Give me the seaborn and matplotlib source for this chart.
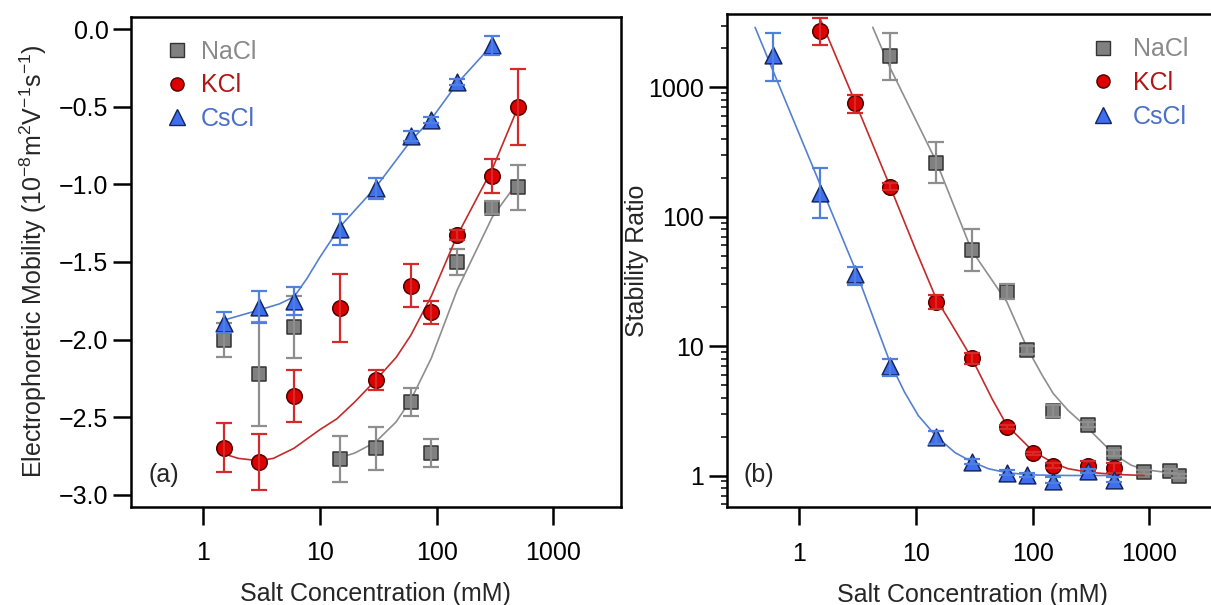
import numpy as np
import pandas as pd
import matplotlib
matplotlib.use('Agg')
import matplotlib.pyplot as plt
import seaborn as sns
from matplotlib.lines import Line2D
from matplotlib.ticker import LogLocator, NullLocator, NullFormatter, FuncFormatter

# ---------------- data: (a) electrophoretic mobility ----------------
conc_a_nacl = [1.5, 3, 6, 15, 30, 60, 90, 150, 300, 500]
mob_nacl = [-2.00, -2.22, -1.92, -2.77, -2.70, -2.40, -2.73, -1.50, -1.15, -1.02]
mob_nacl_err = [0.11, 0.335, 0.20, 0.15, 0.14, 0.09, 0.09, 0.085, 0.04, 0.145]

conc_a_kcl = [1.5, 3, 6, 15, 30, 60, 90, 150, 300, 500]
mob_kcl = [-2.695, -2.79, -2.363, -1.797, -2.258, -1.652, -1.825, -1.326, -0.945, -0.50]
mob_kcl_err = [0.16, 0.18, 0.17, 0.22, 0.065, 0.14, 0.075, 0.035, 0.11, 0.245]

conc_a_cscl = [1.5, 3, 6, 15, 30, 60, 90, 150, 300]
mob_cscl = [-1.89, -1.79, -1.75, -1.29, -1.026, -0.688, -0.587, -0.34, -0.105]
mob_cscl_err = [0.065, 0.10, 0.09, 0.10, 0.07, 0.03, 0.02, 0.02, 0.06]

# fit curves (a)
fit_a_nacl_c = [15, 20, 30, 45, 60, 90, 150, 300, 500]
fit_a_nacl_v = [-2.76, -2.73, -2.66, -2.53, -2.39, -2.12, -1.68, -1.21, -0.98]
fit_a_kcl_c = [1.5, 2, 3, 4, 6, 10, 14, 20, 30, 45, 60, 90, 150, 300, 500]
fit_a_kcl_v = [-2.735, -2.765, -2.78, -2.765, -2.70, -2.58, -2.51, -2.40, -2.262,
               -2.115, -1.973, -1.72, -1.33, -0.90, -0.50]
fit_a_cscl_c = [1.5, 3, 4.5, 6, 7.7, 10, 15, 30, 60, 90, 150, 300]
fit_a_cscl_v = [-1.875, -1.81, -1.77, -1.725, -1.61, -1.47, -1.27, -1.02, -0.72,
                -0.58, -0.35, -0.10]

# ---------------- data: (b) stability ratio ----------------
conc_b_nacl = [6, 15, 30, 60, 90, 150, 300, 500, 900, 1500, 1800]
w_nacl = [1760, 262, 55, 26.4, 9.4, 3.15, 2.45, 1.50, 1.06, 1.08, 0.99]
w_nacl_lo = [1130, 181, 38, 23, 8.7, 2.85, 2.35, 1.42, 1.03, 1.04, 0.96]
w_nacl_hi = [2640, 379, 81, 30, 10.1, 3.5, 2.6, 1.58, 1.10, 1.12, 1.02]

conc_b_kcl = [1.5, 3, 6, 15, 30, 60, 100, 150, 300, 500]
w_kcl = [2745, 760, 170, 22, 8.1, 2.36, 1.48, 1.19, 1.18, 1.14]
w_kcl_lo = [2130, 637, 160, 19.3, 7.3, 2.28, 1.43, 1.15, 1.08, 1.05]
w_kcl_hi = [3440, 866, 181, 24.9, 8.9, 2.44, 1.53, 1.24, 1.29, 1.25]

conc_b_cscl = [0.6, 1.5, 3, 6, 15, 30, 60, 90, 150, 300, 500]
w_cscl = [1762, 153, 36, 7.0, 1.99, 1.28, 1.05, 1.01, 0.91, 1.08, 0.93]
w_cscl_lo = [1110, 97, 29.7, 5.9, 1.75, 1.23, 1.01, 0.98, 0.87, 1.04, 0.89]
w_cscl_hi = [2640, 236, 41, 7.9, 2.2, 1.34, 1.10, 1.05, 0.97, 1.13, 0.98]

# fit curves (b)
fit_b_nacl_c = [4.27, 6, 15, 30, 60, 90, 120, 150, 200, 300, 500, 700, 900, 1500, 1850]
fit_b_nacl_w = [2910, 1420, 265, 55, 22, 9.6, 6.0, 4.3, 3.2, 2.3, 1.45, 1.2, 1.11, 1.05, 1.04]
fit_b_kcl_c = [1.5, 3, 6, 10, 15, 20, 30, 45, 60, 100, 150, 200, 300, 500, 900]
fit_b_kcl_w = [3450, 780, 172, 55, 23, 15, 8.1, 3.9, 2.45, 1.55, 1.25, 1.13, 1.06, 1.02, 1.0]
fit_b_cscl_c = [0.42, 0.6, 1.5, 3, 4.5, 6, 8, 10.5, 15, 21.7, 30, 41.6, 60, 100, 200, 500]
fit_b_cscl_w = [2900, 1330, 181, 40, 15, 7.5, 4.4, 2.9, 2.0, 1.5, 1.28, 1.13, 1.05, 1.01, 1.0, 1.0]

salts = ["NaCl", "KCl", "CsCl"]
x_ticks = [1, 10, 100, 1000]
x_ticklabels = ["1", "10", "100", "1000"]
a_yticks = [0.0, -0.5, -1.0, -1.5, -2.0, -2.5, -3.0]
b_yticks = [1, 10, 100, 1000]
b_yticklabels = ["1", "10", "100", "1000"]

# ---------------- styles ----------------
style = {
    "NaCl": dict(marker="s", s=105, face="#808080", edge="#333333", err="#8e8e8e",
                 line="#8e8e8e", text="#8a8a8a"),
    "KCl": dict(marker="o", s=125, face="#dc0000", edge="#500000", err="#d42a2a",
                line="#c42a2a", text="#b01818"),
    "CsCl": dict(marker="^", s=145, face="#3f6ff0", edge="#15265e", err="#4f80e0",
                 line="#5580d2", text="#4a70c8"),
}

sns.set_theme(style="ticks")
plt.rcParams["font.family"] = ["Liberation Sans", "DejaVu Sans"]
plt.rcParams["axes.unicode_minus"] = True
plt.rcParams["mathtext.fontset"] = "custom"
plt.rcParams["mathtext.rm"] = "Liberation Sans"
plt.rcParams["mathtext.it"] = "Liberation Sans:italic"
plt.rcParams["mathtext.default"] = "regular"

FS = 18
fig = plt.figure(figsize=(12.11, 6.05), dpi=100)
axA = fig.add_axes([0.1079, 0.1628, 0.405, 0.8096])
axB = fig.add_axes([0.6001, 0.1615, 0.405, 0.8149])

for ax in (axA, axB):
    ax.set_xscale("log")
axB.set_yscale("log")


def draw(ax, name, c, v, lo, hi, fc, fv, i):
    st = style[name]
    z = 2 + 3 * i
    sns.lineplot(x=fc, y=fv, ax=ax, color=st["line"], lw=1.2, sort=False,
                 estimator=None, zorder=z)
    sns.scatterplot(x=c, y=v, ax=ax, marker=st["marker"], s=st["s"], color=st["face"],
                    edgecolor=st["edge"], linewidth=1.1, zorder=z + 1)
    ax.errorbar(c, v, yerr=[lo, hi], fmt="none", ecolor=st["err"], elinewidth=1.6,
                capsize=5.5, capthick=1.6, zorder=z + 2)


# panel (a)
draw(axA, "NaCl", conc_a_nacl, mob_nacl, mob_nacl_err, mob_nacl_err,
     fit_a_nacl_c, fit_a_nacl_v, 0)
draw(axA, "KCl", conc_a_kcl, mob_kcl, mob_kcl_err, mob_kcl_err,
     fit_a_kcl_c, fit_a_kcl_v, 1)
draw(axA, "CsCl", conc_a_cscl, mob_cscl, mob_cscl_err, mob_cscl_err,
     fit_a_cscl_c, fit_a_cscl_v, 2)

# panel (b)
def asym(v, lo, hi):
    v = np.array(v); return v - np.array(lo), np.array(hi) - v

l, h = asym(w_nacl, w_nacl_lo, w_nacl_hi)
draw(axB, "NaCl", conc_b_nacl, w_nacl, l, h, fit_b_nacl_c, fit_b_nacl_w, 0)
l, h = asym(w_kcl, w_kcl_lo, w_kcl_hi)
draw(axB, "KCl", conc_b_kcl, w_kcl, l, h, fit_b_kcl_c, fit_b_kcl_w, 1)
l, h = asym(w_cscl, w_cscl_lo, w_cscl_hi)
draw(axB, "CsCl", conc_b_cscl, w_cscl, l, h, fit_b_cscl_c, fit_b_cscl_w, 2)

# axes limits / ticks
for ax in (axA, axB):
    ax.set_xlim(0.24, 3800)
    ax.set_xticks(x_ticks)
    ax.set_xticklabels(x_ticklabels)
    ax.xaxis.set_minor_locator(NullLocator())
    for sp in ax.spines.values():
        sp.set_linewidth(1.8)
        sp.set_color("black")
    ax.tick_params(axis="both", which="major", direction="out", length=13, width=1.8,
                   labelsize=FS, colors="black")
    ax.tick_params(axis="x", which="major", pad=12)
    ax.tick_params(axis="y", which="major", pad=3)
    ax.set_xlabel("Salt Concentration (mM)", fontsize=FS, labelpad=12)

axA.set_ylim(-3.075, 0.08)
axA.set_yticks(a_yticks)
axA.yaxis.set_major_formatter(FuncFormatter(lambda v, p: f"{v:.1f}".replace("-", "\u2212")))
axA.set_ylabel("Electrophoretic Mobility (10$^{-8}$m$^{2}$V$^{-1}$s$^{-1}$)",
               fontsize=FS, labelpad=7)

axB.set_ylim(0.568, 3665)
axB.set_yticks(b_yticks)
axB.set_yticklabels(b_yticklabels)
axB.yaxis.set_minor_locator(LogLocator(base=10, subs=np.arange(2, 10), numticks=100))
axB.yaxis.set_minor_formatter(NullFormatter())
axB.tick_params(axis="y", which="minor", direction="out", length=4, width=1.3)
axB.set_ylabel("Stability Ratio", fontsize=FS, labelpad=0)

axA.text(0.036, 0.064, "(a)", transform=axA.transAxes, fontsize=FS, ha="left", va="center")
axB.text(0.034, 0.0655, "(b)", transform=axB.transAxes, fontsize=FS, ha="left", va="center")

# legends
def legend(ax, x0, pad):
    handles = [Line2D([], [], ls="none", marker=style[n]["marker"],
                      markerfacecolor=style[n]["face"], markeredgecolor=style[n]["edge"],
                      markersize=9.5 if n != "CsCl" else 11, markeredgewidth=1.0)
               for n in salts]
    leg = ax.legend(handles, salts, loc="upper left", bbox_to_anchor=(x0, 0.953),
                    frameon=False, fontsize=FS, handlelength=0.8, handletextpad=pad,
                    labelspacing=0.39, borderpad=0, borderaxespad=0)
    for t, n in zip(leg.get_texts(), salts):
        t.set_color(style[n]["text"])

legend(axA, 0.074, 0.56)
legend(axB, 0.7474, 0.77)

fig.savefig("out.png", dpi=100)
